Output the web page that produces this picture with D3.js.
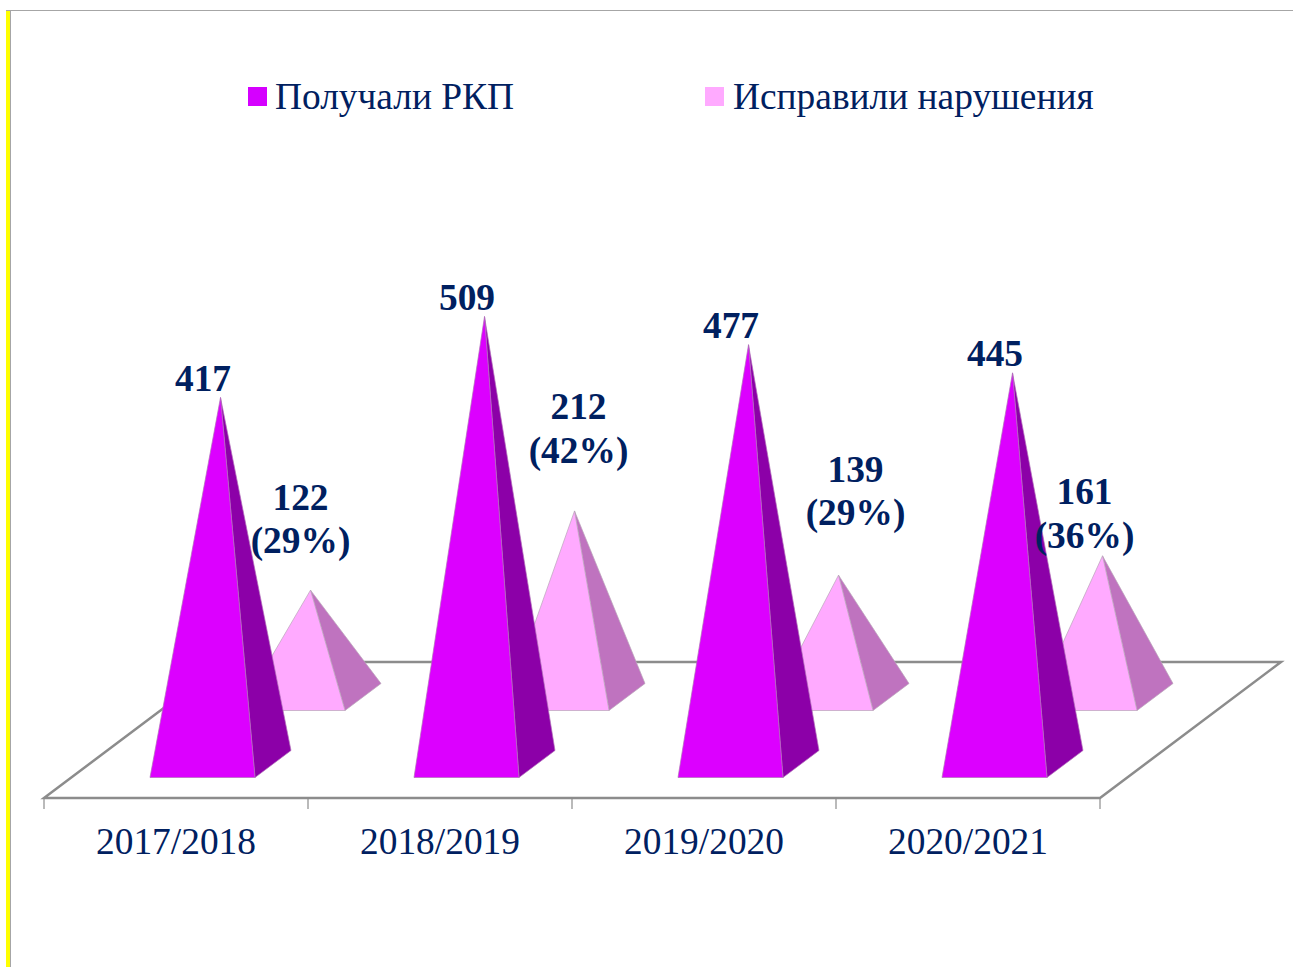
<!DOCTYPE html>
<html>
<head>
<meta charset="utf-8">
<script src="https://cdnjs.cloudflare.com/ajax/libs/d3/7.8.5/d3.min.js"></script>
<style>
html, body { margin: 0; padding: 0; background: #fff; overflow: hidden; }
text { font-family: "Liberation Serif", serif; fill: #002060; }
</style>
</head>
<body>
<div id="chart"></div>
<script>
var years = ["2017/2018", "2018/2019", "2019/2020", "2020/2021"];
var seriesNames = ["Получали РКП", "Исправили нарушения"];
var received = [417, 509, 477, 445];
var fixed = [122, 212, 139, 161];
var fixedLabels = ["(29%)", "(42%)", "(29%)", "(36%)"];

var width = 1293, height = 967;

var svg = d3.select("#chart").append("svg")
    .attr("width", width)
    .attr("height", height);

// frame of the slide
svg.append("rect").attr("x", 6).attr("y", 10).attr("width", 4).attr("height", height - 10).attr("fill", "#ffff00");
svg.append("line").attr("x1", 10.5).attr("x2", 10.5).attr("y1", 10).attr("y2", height).attr("stroke", "#a6a6a6");
svg.append("line").attr("x1", 6).attr("x2", width).attr("y1", 10.5).attr("y2", 10.5).attr("stroke", "#a6a6a6");

var x = d3.scaleBand().domain(years).range([44, 1100]);
var h = d3.scaleLinear().domain([0, 600]).range([0, 528]);

// floor
var floorY = 798, floorBackY = 662, floorDepth = 181;
svg.append("polygon")
    .attr("points", [[44, floorY], [1100, floorY], [1100 + floorDepth, floorBackY], [44 + floorDepth, floorBackY]].join(" "))
    .attr("fill", "#fff")
    .attr("stroke", "#8c8c8c")
    .attr("stroke-width", 2.5);

// axis: labels from the band scale, ticks on the band edges
var axis = svg.append("g")
    .attr("transform", "translate(0," + floorY + ")")
    .call(d3.axisBottom(x).tickSize(0).tickPadding(29));
axis.select(".domain").remove();
axis.selectAll("text")
    .style("font-family", '"Liberation Serif", serif')
    .style("font-size", "37.4px")
    .attr("fill", "#002060");

d3.range(years.length + 1).forEach(function (i) {
    var tx = 44 + i * x.step();
    svg.append("line")
        .attr("x1", tx).attr("x2", tx)
        .attr("y1", floorY).attr("y2", floorY + 11)
        .attr("stroke", "#8c8c8c")
        .attr("stroke-width", 1.2);
});

// one pyramid: front face + right side face
function pyramid(left, baseY, value, front, side, edge) {
    var w = 105, dx = 36, dy = 27;
    var apexX = left + w / 2 + dx / 2;
    var apexY = baseY - 13 - h(value);
    var g = svg.append("g").attr("stroke", edge).attr("stroke-width", 0.7).attr("stroke-linejoin", "round");
    g.append("polygon")
        .attr("points", [[left + w, baseY], [left + w + dx, baseY - dy], [apexX, apexY]].join(" "))
        .attr("fill", side);
    g.append("polygon")
        .attr("points", [[left, baseY], [left + w, baseY], [apexX, apexY]].join(" "))
        .attr("fill", front);
    return [apexX, apexY];
}

var backApex = fixed.map(function (d, i) {
    return pyramid(x(years[i]) + 196, 710.5, d, "#ffaaff", "#bf73bf", "#b9a3b9");
});
var frontApex = received.map(function (d, i) {
    return pyramid(x(years[i]) + 106, 777.5, d, "#dc00ff", "#8c00a8", "#b070b8");
});

// data labels
var labels = svg.append("g")
    .attr("font-weight", "bold")
    .attr("font-size", 37.4)
    .attr("text-anchor", "middle");

received.forEach(function (d, i) {
    labels.append("text")
        .attr("x", frontApex[i][0] - 17.5)
        .attr("y", frontApex[i][1] - 7)
        .text(d);
});

// the back labels were moved by hand in the original chart
var nudgeX = [-10, 4, 17, -18], nudgeY = [-37, -48, -50, -8];
fixed.forEach(function (d, i) {
    var lx = backApex[i][0] + nudgeX[i];
    var ly = backApex[i][1] + nudgeY[i];
    labels.append("text").attr("x", lx).attr("y", ly - 43.5).text(d);
    labels.append("text").attr("x", lx).attr("y", ly).text(fixedLabels[i]);
});

// legend
var legendX = [248, 705], legendColors = ["#d500ff", "#ffaaff"];
seriesNames.forEach(function (name, i) {
    svg.append("rect")
        .attr("x", legendX[i]).attr("y", 87)
        .attr("width", 19).attr("height", 19)
        .attr("fill", legendColors[i]);
    svg.append("text")
        .attr("x", legendX[i] + 27 + i).attr("y", 109)
        .attr("font-size", 37.4)
        .text(name);
});
</script>
</body>
</html>
